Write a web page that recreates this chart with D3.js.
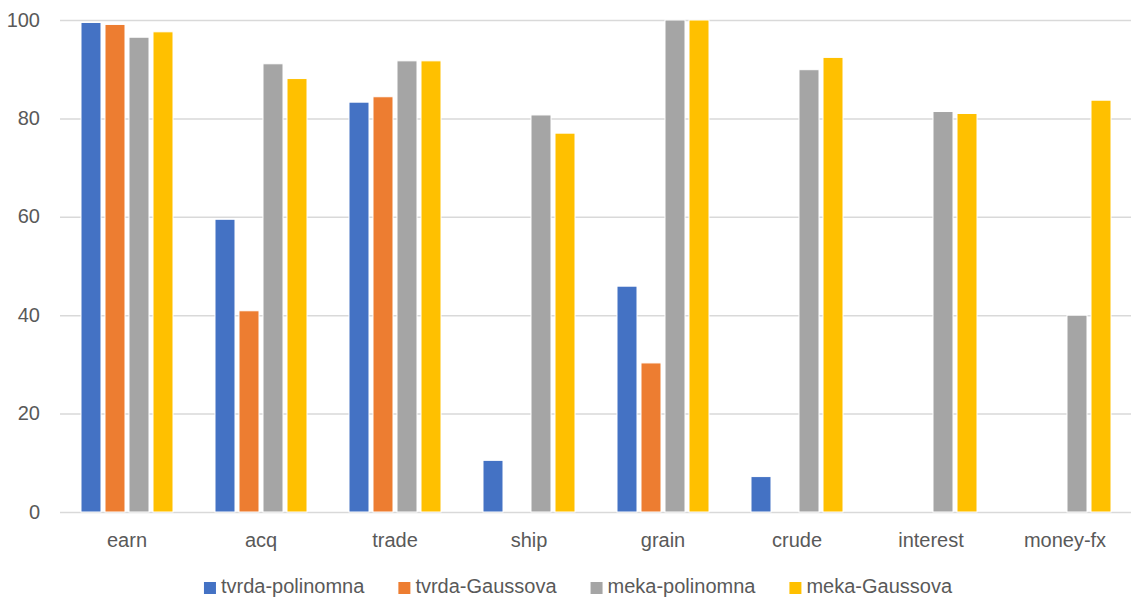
<!DOCTYPE html>
<html>
<head>
<meta charset="utf-8">
<script src="https://cdn.jsdelivr.net/npm/d3@7"></script>
<style>
  html, body { margin: 0; padding: 0; background: #fff; }
  svg { display: block; font-family: "Liberation Sans", Arial, sans-serif; }
</style>
</head>
<body>
<svg id="chart" width="1131" height="600"></svg>
<script>
// Categories and per-series scores
const categories = ["earn", "acq", "trade", "ship", "grain", "crude", "interest", "money-fx"];
const seriesNames = ["tvrda-polinomna", "tvrda-Gaussova", "meka-polinomna", "meka-Gaussova"];
const tvrdaPolinomna = [99.5, 59.5, 83.3, 10.5, 45.9, 7.2, 0, 0];
const tvrdaGaussova  = [99.1, 40.9, 84.4, 0, 30.3, 0, 0, 0];
const mekaPolinomna  = [96.5, 91.1, 91.7, 80.7, 100, 89.9, 81.4, 40.0];
const mekaGaussova   = [97.6, 88.1, 91.7, 77.0, 100, 92.4, 81.0, 83.7];
const yTicks = [0, 20, 40, 60, 80, 100];
const colors = ["#4472C4", "#ED7D31", "#A5A5A5", "#FFC000"];

const seriesValues = [tvrdaPolinomna, tvrdaGaussova, mekaPolinomna, mekaGaussova];

const svg = d3.select("#chart");
const plot = { left: 60, right: 1132, top: 20, bottom: 512 };

const x0 = d3.scaleBand()
  .domain(categories)
  .range([plot.left, plot.right])
  .paddingInner(0.3134)
  .paddingOuter(0.1567);

const x1 = d3.scaleBand()
  .domain(seriesNames)
  .range([0, x0.bandwidth()])
  .paddingInner(0.1667)
  .paddingOuter(0);

const y = d3.scaleLinear().domain([0, 100]).range([plot.bottom, plot.top]);

// Horizontal gridlines with value labels
const yAxis = d3.axisLeft(y)
  .tickValues(yTicks)
  .tickSize(-(plot.right - plot.left))
  .tickPadding(20)
  .tickFormat(d3.format("d"));

const gy = svg.append("g")
  .attr("transform", `translate(${plot.left},0)`)
  .call(yAxis);
gy.select(".domain").remove();
gy.selectAll(".tick line")
  .attr("stroke", "#d9d9d9")
  .attr("stroke-width", 1.5);
gy.selectAll(".tick text")
  .attr("fill", "#595959")
  .attr("font-size", 20)
  .attr("dy", "0.3em");

// Grouped bars
const groups = svg.append("g")
  .selectAll("g")
  .data(categories)
  .join("g")
  .attr("transform", d => `translate(${x0(d)},0)`);

groups.selectAll("rect")
  .data((cat, i) => seriesNames.map((s, k) => ({ s, k, v: seriesValues[k][i] })).filter(d => d.v > 0))
  .join("rect")
  .attr("x", d => x1(d.s))
  .attr("width", x1.bandwidth())
  .attr("y", d => y(d.v))
  .attr("height", d => y(0) - y(d.v))
  .attr("fill", d => colors[d.k])
  .attr("stroke", "#ffffff")
  .attr("stroke-width", 1);

// Category labels
const xAxis = d3.axisBottom(x0).tickSize(0).tickPadding(0);
const gx = svg.append("g")
  .attr("transform", `translate(0,${plot.bottom})`)
  .call(xAxis);
gx.select(".domain").remove();
gx.selectAll(".tick text")
  .attr("fill", "#595959")
  .attr("font-size", 20)
  .attr("y", 35)
  .attr("dy", 0);

// Legend, laid out from measured label widths
const legend = svg.append("g");
const items = legend.selectAll("g")
  .data(seriesNames)
  .join("g");
items.append("rect")
  .attr("width", 12)
  .attr("height", 12)
  .attr("y", 582)
  .attr("fill", (d, i) => colors[i]);
items.append("text")
  .attr("x", 17)
  .attr("y", 593)
  .attr("fill", "#595959")
  .attr("font-size", 20)
  .text(d => d);

let xPos = 0;
const gap = 34;
const offsets = [];
items.each(function () {
  offsets.push(xPos);
  const w = 17 + d3.select(this).select("text").node().getComputedTextLength();
  xPos += w + gap;
});
const total = xPos - gap;
const startX = 578 - total / 2;
items.attr("transform", (d, i) => `translate(${startX + offsets[i]},0)`);
</script>
</body>
</html>
